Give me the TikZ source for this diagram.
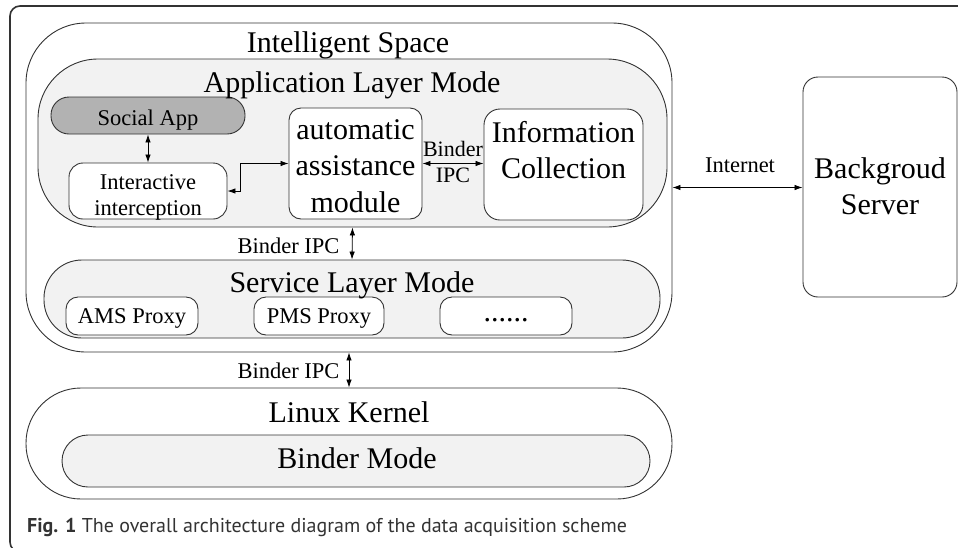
\documentclass[tikz,border=0pt]{standalone}
\usepackage{fontspec}
\setmainfont{Liberation Serif}
\newfontfamily\capfont{PT Sans}
\usetikzlibrary{arrows.meta,positioning}

\begin{document}
\begin{tikzpicture}[x=1pt, y=-1pt,
		box/.style={draw=black!80, line width=0.9pt, inner sep=0pt, fill=white},
		layer/.style={box, fill=black!5},
		big/.style={font=\fontsize{30}{36.5}\selectfont, align=center},
		small/.style={font=\fontsize{22.5}{25.5}\selectfont, align=center},
		conn/.style={{Latex[length=8pt,width=5.5pt]}-{Latex[length=8pt,width=5.5pt]}, line width=0.8pt}]
			\useasboundingbox (0,0) rectangle (958,547);
			% outer frame of the figure
			\draw[black!80, line width=1.6pt, rounded corners=10pt] (958,6) -- (10,6) -- (10,552) -- (60,552);
			% boxes
			\node[box, minimum width=646pt, minimum height=329pt, rounded corners=60pt] (space) at (349,187.5) {};
			\node[layer, minimum width=629pt, minimum height=168pt, rounded corners=60pt] (app) at (352.5,143) {};
			\node[box, fill=black!30, minimum width=194pt, minimum height=37pt, rounded corners=18pt] (social) at (148,115.5) {};
			\node[box, minimum width=158pt, minimum height=56pt, rounded corners=14pt] (inter) at (148,191) {};
			\node[box, minimum width=133pt, minimum height=111pt, rounded corners=12pt] (auto) at (355.5,163.5) {};
			\node[box, minimum width=159pt, minimum height=111pt, rounded corners=16pt] (info) at (563.5,164.5) {};
			\node[layer, minimum width=616pt, minimum height=78pt, rounded corners=38pt] (service) at (352,299) {};
			\node[box, minimum width=132pt, minimum height=38pt, rounded corners=12pt] (ams) at (132,316) {};
			\node[box, minimum width=130pt, minimum height=38pt, rounded corners=12pt] (pms) at (319,316) {};
			\node[box, minimum width=132pt, minimum height=38pt, rounded corners=12pt] (more) at (506,316) {};
			\node[box, minimum width=646pt, minimum height=111pt, rounded corners=55pt] (linux) at (349,443.5) {};
			\node[layer, minimum width=588pt, minimum height=52pt, rounded corners=26pt] (bindermode) at (356,461) {};
			\node[box, minimum width=154pt, minimum height=220pt, rounded corners=15pt] (server) at (880,187) {};
			% texts
			\node[big, anchor=base] (spacetext) at (348,52) {Intelligent Space};
			\node[big, anchor=base] (apptext) at (352,92) {Application Layer Mode};
			\node[small, anchor=base] (socialtext) at (148,125) {Social App};
			\node[small] (intertext) at (148,197.5) {Interactive\\interception};
			\node[big] (autotext) at (355.5,166) {automatic\\assistance\\module};
			\node[big] (infotext) at (563.5,150) {Information\\Collection};
			\node[small, font=\fontsize{22}{26}\selectfont] (ipctext) at (453,162) {Binder\\IPC};
			\node[big, anchor=base] (servicetext) at (352,292) {Service Layer Mode};
			\node[small, anchor=base] (amstext) at (132,323) {AMS Proxy};
			\node[small, anchor=base] (pmstext) at (319,323) {PMS Proxy};
			\node[big, anchor=base] (moretext) at (506,321) {......};
			\node[big, anchor=base] (linuxtext) at (349,422) {Linux Kernel};
			\node[big, anchor=base] (bindertext) at (357,468) {Binder Mode};
			\node[big] (servertext) at (880,186) {Backgroud\\Server};
			\node[small, anchor=base] (nettext) at (740,172) {Internet};
			\node[small, anchor=base east] (ipcup) at (343,253) {Binder IPC};
			\node[small, anchor=base east] (ipcdown) at (343,378) {Binder IPC};
			% connectors
			\draw[conn] (social) -- (inter);
			\draw[conn] (inter.east) -- ++(13,0) |- (auto.west);
			\draw[conn] (auto.east) -- (auto.east -| info.west);
			\draw[conn] (app.south) -- (service.north);
			\draw[conn] (space.south) -- (linux.north);
			\draw[conn] (space.east) -- (space.east -| server.west);
			% caption
			\node[anchor=base west, inner sep=0pt, text=black!80, font=\capfont\fontsize{20}{22}\selectfont] (caption) at (27,532) {\textbf{Fig. 1} The overall architecture diagram of the data acquisition scheme};
		\end{tikzpicture}
\end{document}
